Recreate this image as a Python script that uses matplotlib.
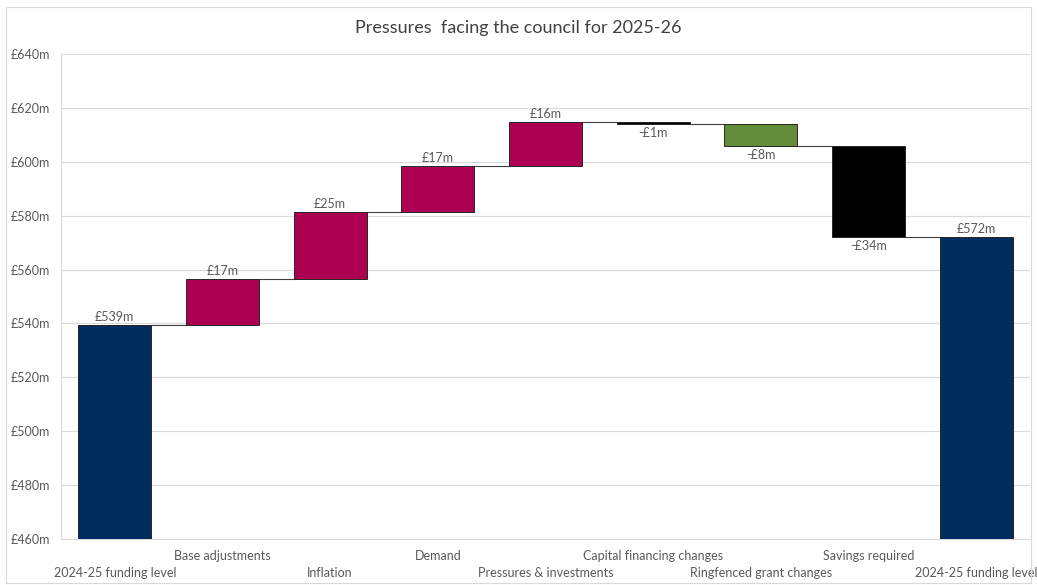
import numpy as np
import matplotlib.pyplot as plt

# waterfall data (£m)
categories = ['2024-25 funding level', 'Base adjustments', 'Inflation', 'Demand',
              'Pressures & investments', 'Capital financing changes',
              'Ringfenced grant changes', 'Savings required', '2024-25 funding level']
start_value = 539.4
changes = [17.2, 24.8, 16.9, 16.4, -0.6, -8.2, -33.7]
labels = ['£539m', '£17m', '£25m', '£17m', '£16m', '-£1m', '-£8m', '-£34m', '£572m']
colors = ['#002D5E', '#AD0052', '#AD0052', '#AD0052', '#AD0052',
          '#000000', '#638C3A', '#000000', '#002D5E']

plt.rcParams['font.family'] = ['Lato', 'DejaVu Sans']

# running totals
ends = start_value + np.cumsum([0] + changes)
end_value = ends[-1]
bottoms = [460] + list(np.minimum(ends[:-1], ends[1:])) + [460]
heights = [start_value - 460] + [abs(c) for c in changes] + [end_value - 460]
levels = list(ends) + [end_value]

fig = plt.figure(figsize=(10.37, 5.85), dpi=100)
ax = fig.add_axes([61 / 1037, 46 / 585, 969 / 1037, 485 / 585])

x = np.arange(len(categories))
w = 0.68
ax.bar(x, heights, bottom=bottoms, width=w, color=colors,
       edgecolor='#262626', linewidth=0.7, zorder=3)

# connector lines
for i in range(len(categories) - 1):
    ax.plot([x[i] + w / 2, x[i + 1] - w / 2], [levels[i], levels[i]],
            color='#404040', linewidth=0.8, zorder=2)

# data labels
for i in range(len(categories)):
    top = bottoms[i] + heights[i]
    if 0 < i < len(categories) - 1 and changes[i - 1] < 0:
        ax.text(x[i], bottoms[i] - 1.2, labels[i], ha='center', va='top',
                fontsize=9, color='#595959')
    else:
        ax.text(x[i], top + 0.8, labels[i], ha='center', va='bottom',
                fontsize=9, color='#595959')

ax.set_xlim(-0.5, len(categories) - 0.5)
ax.set_ylim(460, 640)
ax.set_yticks(np.arange(460, 641, 20))
ax.set_yticklabels(['£%dm' % v for v in range(460, 641, 20)])
ax.tick_params(axis='y', length=0, labelsize=9, labelcolor='#595959', pad=8)
ax.grid(axis='y', color='#D9D9D9', linewidth=0.8, zorder=0)
ax.set_axisbelow(True)

ax.set_xticks(x)
ax.set_xticklabels([])
ax.tick_params(axis='x', length=0)
for i, c in enumerate(categories):
    off = -0.035 if i % 2 else -0.07
    ax.text(x[i], off, c, transform=ax.get_xaxis_transform(), ha='center',
            va='center', fontsize=9, color='#595959')

for s in ['top', 'right']:
    ax.spines[s].set_visible(False)
ax.spines['left'].set_color('#D9D9D9')
ax.spines['bottom'].set_color('#D9D9D9')

fig.text(0.5, 1 - 28 / 585, 'Pressures  facing the council for 2025-26', ha='center',
         va='center', fontsize=13, color='#404040')

# chart border
fig.patches.append(plt.Rectangle((6 / 1037, 2 / 585), 1025 / 1037, 576 / 585,
                                 transform=fig.transFigure, fill=False,
                                 edgecolor='#D9D9D9', linewidth=0.8))

fig.savefig('out.png', dpi=100)
